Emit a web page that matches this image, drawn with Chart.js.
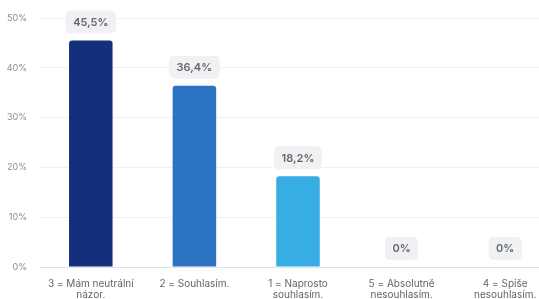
<!DOCTYPE html>
<html>
<head>
<meta charset="utf-8">
<script src="https://cdn.jsdelivr.net/npm/chart.js@4"></script>
<style>
  html, body { margin: 0; padding: 0; background: #fff; overflow: hidden; width: 539px; height: 299px; }
  #wrap { width: 557px; height: 299px; }
</style>
</head>
<body>
<div id="wrap"><canvas id="chart" width="557" height="299"></canvas></div>
<script>
// ─── Data ───────────────────────────────────────────────────

const categories = [
  ['3 = Mám neutrální', 'názor.'],
  ['2 = Souhlasím.'],
  ['1 = Naprosto', 'souhlasím.'],
  ['5 = Absolutně', 'nesouhlasím.'],
  ['4 = Spíše', 'nesouhlasím.'],
];
const shares = [45.5, 36.4, 18.2, 0, 0];
const barColors = ['#142f7c', '#2c72c2', '#38ade3', '#38ade3', '#38ade3'];
const yTicks = [0, 10, 20, 30, 40, 50];

// ─── Value badges above bars ────────────────────────────────

const fmtPct = v => String(v).replace('.', ',') + '%';

const badgePlugin = {
  id: 'badges',
  afterDatasetsDraw(chart) {
    const { ctx } = chart;
    const meta = chart.getDatasetMeta(0);
    ctx.save();
    ctx.font = '600 11px Inter, "Open Sans", sans-serif';
    ctx.textAlign = 'center';
    ctx.textBaseline = 'middle';
    meta.data.forEach((bar, i) => {
      const text = fmtPct(shares[i]);
      const w = ctx.measureText(text).width + 15;
      const h = 23;
      const x = bar.x - w / 2;
      const y = bar.y - 7 - h;
      ctx.fillStyle = '#f0f1f3';
      ctx.beginPath();
      ctx.roundRect(x, y, w, h, 5);
      ctx.fill();
      ctx.fillStyle = '#64676d';
      ctx.fillText(text, bar.x, y + h / 2 + 0.5);
    });
    ctx.restore();
  },
};

// ─── Chart ──────────────────────────────────────────────────

new Chart(document.getElementById('chart'), {
  type: 'bar',
  data: {
    labels: categories,
    datasets: [{
      data: shares,
      backgroundColor: barColors,
      borderRadius: { topLeft: 3, topRight: 3 },
      borderSkipped: 'bottom',
      categoryPercentage: 1,
      barPercentage: 0.42,
    }],
  },
  options: {
    responsive: false,
    animation: false,
    layout: { padding: { top: 18, left: 0, right: 0, bottom: 0 } },
    plugins: {
      legend: { display: false },
      tooltip: { enabled: false },
    },
    scales: {
      y: {
        min: 0,
        max: 50,
        afterBuildTicks: s => { s.ticks = yTicks.map(v => ({ value: v })); },
        afterFit: s => { s.width = 39; },
        ticks: {
          callback: v => v + '%',
          color: '#8a8d92',
          font: { family: 'Inter, "Open Sans", sans-serif', size: 9 },
          padding: 12,
        },
        grid: {
          color: ctx => ctx.tick && ctx.tick.value === 0 ? '#dde3ee' : '#eef0f3',
          drawTicks: false,
        },
        border: { display: false },
      },
      x: {
        afterFit: s => { s.height = 32; },
        ticks: {
          color: '#626569',
          font: { family: 'Inter, "Open Sans", sans-serif', size: 10, lineHeight: 1.1 },
          padding: 11,
          maxRotation: 0,
          autoSkip: false,
        },
        grid: { display: false, drawTicks: false },
        border: { display: false },
      },
    },
  },
  plugins: [badgePlugin],
});
</script>
</body>
</html>
